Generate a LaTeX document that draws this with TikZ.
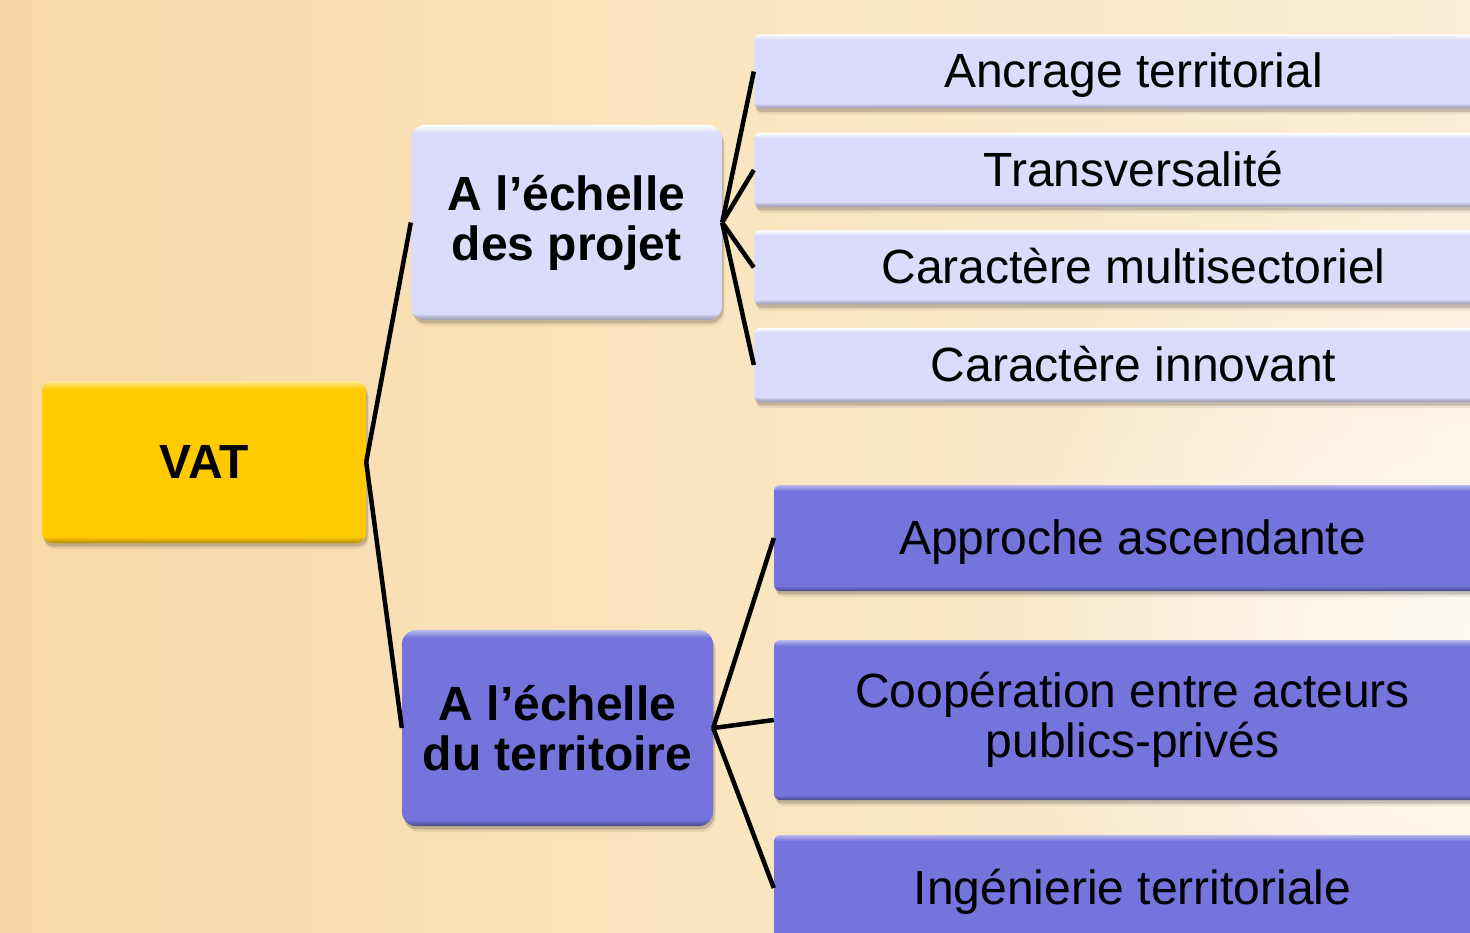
\documentclass[tikz,border=0pt]{standalone}
\usepackage{fontspec}
\setmainfont{Liberation Sans}
\usetikzlibrary{shadows,fadings}
\definecolor{bgL}{RGB}{248,216,166}
\definecolor{bgM}{RGB}{250,229,192}
\definecolor{bgR}{RGB}{252,238,215}
\definecolor{vatc}{RGB}{255,203,0}
\definecolor{lavc}{RGB}{219,219,251}
\definecolor{darkc}{RGB}{116,116,220}
\tikzfading[name=glowfade, inner color=transparent!0, outer color=transparent!100]
% vertical bevel shadings (25bp..75bp map to the node's height)
\pgfdeclareverticalshading{vatsh}{100bp}{color(0bp)=(vatc!70!black); color(25bp)=(vatc!70!black); color(26bp)=(vatc!85!black); color(27bp)=(vatc); color(72.5bp)=(vatc); color(75bp)=(vatc!40!white); color(100bp)=(vatc!40!white)}
\pgfdeclareverticalshading{projsh}{100bp}{color(0bp)=(lavc!70!black); color(25bp)=(lavc!70!black); color(26bp)=(lavc!85!black); color(26.6bp)=(lavc); color(73bp)=(lavc); color(75bp)=(white); color(100bp)=(white)}
\pgfdeclareverticalshading{terrsh}{100bp}{color(0bp)=(darkc!65!black); color(25bp)=(darkc!65!black); color(26bp)=(darkc!85!black); color(26.6bp)=(darkc); color(73bp)=(darkc); color(75bp)=(darkc!50!white); color(100bp)=(darkc!50!white)}
\pgfdeclareverticalshading{leafLsh}{100bp}{color(0bp)=(lavc!70!black); color(25bp)=(lavc!70!black); color(27bp)=(lavc!85!black); color(28.4bp)=(lavc); color(71.6bp)=(lavc); color(73.5bp)=(lavc!50!white); color(75bp)=(white); color(100bp)=(white)}
\pgfdeclareverticalshading{leafDsh}{100bp}{color(0bp)=(darkc!60!black); color(25bp)=(darkc!60!black); color(26.2bp)=(darkc!82!black); color(27.4bp)=(darkc); color(72.2bp)=(darkc); color(75bp)=(darkc!50!white); color(100bp)=(darkc!50!white)}
\pgfdeclareverticalshading{leafDbsh}{100bp}{color(0bp)=(darkc!60!black); color(25bp)=(darkc!60!black); color(25.8bp)=(darkc!82!black); color(26.6bp)=(darkc); color(73.1bp)=(darkc); color(75bp)=(darkc!50!white); color(100bp)=(darkc!50!white)}
\tikzset{
  boxbase/.style={draw=none, inner sep=0pt, align=center, shade, shading=#1,
    drop shadow={shadow xshift=2.5pt, shadow yshift=-6pt, fill=black, opacity=0.07},
    drop shadow={shadow xshift=1.5pt, shadow yshift=-3.5pt, fill=black, opacity=0.16}},
  bigfont/.style={font=\bfseries\fontsize{48}{50}\selectfont},
  leaffont/.style={font=\fontsize{48}{50}\selectfont},
  vatbox/.style={boxbase=vatsh, rounded corners=10pt, minimum width=324pt, minimum height=162pt, bigfont},
  midlight/.style={boxbase=projsh, rounded corners=14pt, minimum width=311pt, minimum height=195pt, bigfont},
  middark/.style={boxbase=terrsh, rounded corners=14pt, minimum width=311pt, minimum height=196pt, bigfont},
  leaflight/.style={boxbase=leafLsh, rounded corners=6pt, minimum width=759pt, minimum height=74pt, leaffont, text height=38pt, text depth=5pt},
  leafdark/.style={boxbase=leafDsh, rounded corners=6pt, minimum width=717pt, minimum height=106pt, leaffont},
  link/.style={draw=black, line width=4.5pt}
}
\begin{document}
\begin{tikzpicture}[x=1pt,y=-1pt]
\useasboundingbox (0,0) rectangle (1470,933);
\clip (0,0) rectangle (1470,933);
% background
\fill[left color=bgL, right color=bgR, middle color=bgM] (0,0) rectangle (1470,933);
\fill[white, path fading=glowfade, opacity=0.75] (1480,640) circle (480);

% nodes
\node[vatbox] (vat) at (204,462) {VAT};
\node[midlight] (proj) at (566.5,222.5) {A l’échelle\\des projet};
\node[middark] (terr) at (557.5,728) {A l’échelle\\du territoire};

\node[leaflight] (a1) at (1133.5,71.5) {Ancrage territorial};
\node[leaflight] (a2) at (1133.5,170) {Transversalité};
\node[leaflight] (a3) at (1133.5,267.5) {Caractère multisectoriel};
\node[leaflight] (a4) at (1133.5,365) {Caractère innovant};

\node[leafdark, text height=38pt, text depth=5pt] (b1) at (1132.5,538) {Approche ascendante};
\node[leafdark, shading=leafDbsh, minimum height=160pt] (b2) at (1132.5,720) {Coopération entre acteurs\\publics-privés};
\node[leafdark, text height=38pt, text depth=5pt] (b3) at (1132.5,888) {Ingénierie territoriale};

% connectors
\draw[link] (vat.east) -- (proj.west);
\draw[link] (vat.east) -- (terr.west);
\foreach \n in {a1,a2,a3,a4} \draw[link] (proj.east) -- (\n.west);
\foreach \n in {b1,b2,b3} \draw[link] (terr.east) -- (\n.west);
\end{tikzpicture}
\end{document}
